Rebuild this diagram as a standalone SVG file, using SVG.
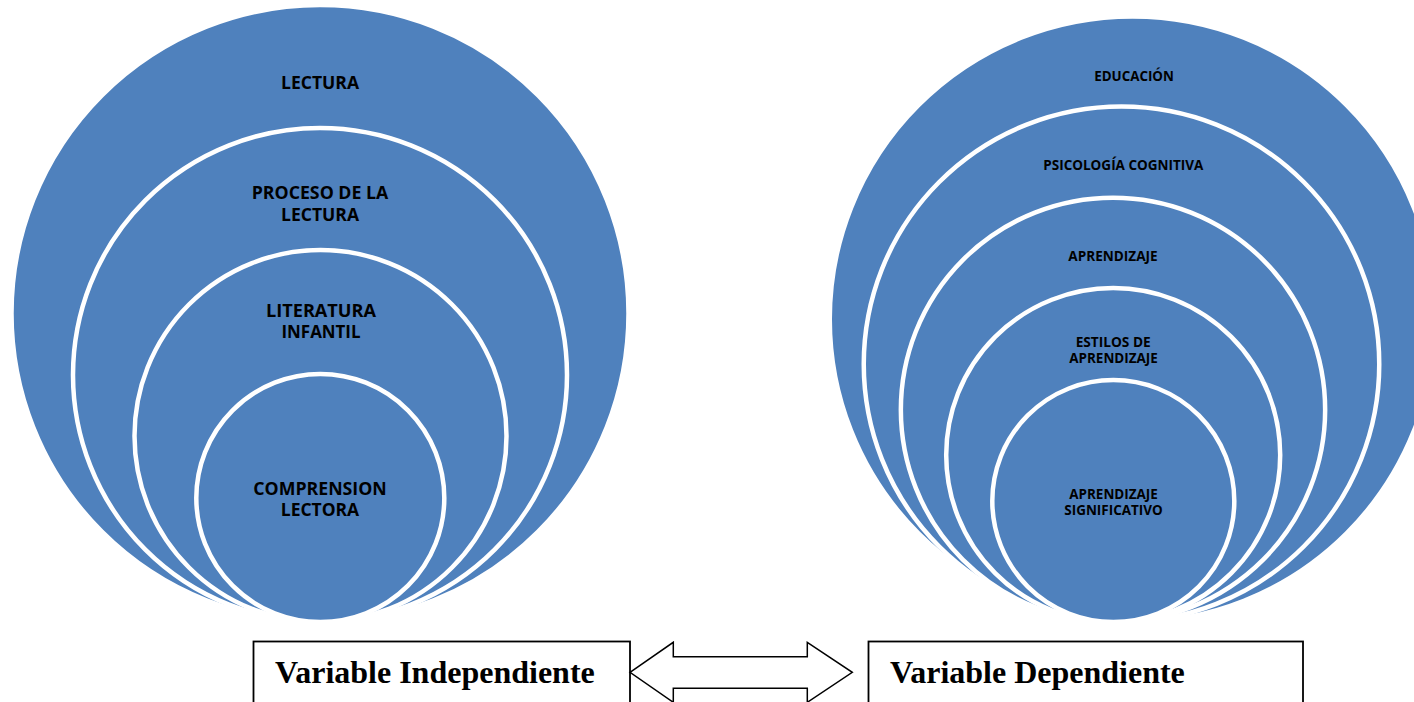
<svg xmlns="http://www.w3.org/2000/svg" width="1414" height="702" viewBox="0 0 1414 702">
<style>
.c{fill:#4F81BD;stroke:#FFFFFF;stroke-width:4.5}
.t{font-family:"Open Sans","Liberation Sans",sans-serif;font-weight:700;fill:#000;text-anchor:middle}
.l{font-size:18px}
.r{font-size:13.5px}
.box{fill:#FFFFFF;stroke:#000;stroke-width:1.8}
.bt{font-family:"Liberation Serif","Times New Roman",serif;font-weight:700;font-size:32px;fill:#000}
.arr{fill:#FFFFFF;stroke:#000;stroke-width:1.5;stroke-linejoin:miter}
</style>
<rect width="1414" height="702" fill="#FFFFFF"/>
<g id="left-diagram">
  <g id="n-lectura">
    <circle class="c" cx="320" cy="313.5" r="308.5"/>
    <text class="t l" x="320" y="89" textLength="78" lengthAdjust="spacingAndGlyphs">LECTURA</text>
  </g>
  <g id="n-proceso">
    <circle class="c" cx="320" cy="375" r="247"/>
    <text class="t l"><tspan x="320" y="199.3" textLength="136.6" lengthAdjust="spacingAndGlyphs">PROCESO DE LA</tspan><tspan x="320" y="220.6" textLength="78" lengthAdjust="spacingAndGlyphs">LECTURA</tspan></text>
  </g>
  <g id="n-literatura">
    <circle class="c" cx="320.5" cy="436" r="186"/>
    <text class="t l"><tspan x="321" y="316.7" textLength="110" lengthAdjust="spacingAndGlyphs">LITERATURA</tspan><tspan x="321" y="338.1" textLength="79" lengthAdjust="spacingAndGlyphs">INFANTIL</tspan></text>
  </g>
  <g id="n-comprension">
    <circle class="c" cx="320.3" cy="498" r="124"/>
    <text class="t l"><tspan x="320" y="494.5" textLength="133.4" lengthAdjust="spacingAndGlyphs">COMPRENSION</tspan><tspan x="320" y="515.9" textLength="78.3" lengthAdjust="spacingAndGlyphs">LECTORA</tspan></text>
  </g>
</g>
<g id="right-diagram">
  <g id="n-educacion">
    <circle class="c" cx="1132.5" cy="319.25" r="302.75"/>
    <text class="t r" x="1134" y="81" textLength="79.7" lengthAdjust="spacingAndGlyphs">EDUCACIÓN</text>
  </g>
  <g id="n-psicologia">
    <circle class="c" cx="1121.5" cy="364.25" r="257.75"/>
    <text class="t r" x="1123.3" y="169.5" textLength="160" lengthAdjust="spacingAndGlyphs">PSICOLOGÍA COGNITIVA</text>
  </g>
  <g id="n-aprendizaje">
    <circle class="c" cx="1113" cy="409.85" r="212.15"/>
    <text class="t r" x="1113" y="261" textLength="89.3" lengthAdjust="spacingAndGlyphs">APRENDIZAJE</text>
  </g>
  <g id="n-estilos">
    <circle class="c" cx="1113.2" cy="455" r="167"/>
    <text class="t r"><tspan x="1113.2" y="347" textLength="75" lengthAdjust="spacingAndGlyphs">ESTILOS DE</tspan><tspan x="1113.5" y="363.2" textLength="88.4" lengthAdjust="spacingAndGlyphs">APRENDIZAJE</tspan></text>
  </g>
  <g id="n-significativo">
    <circle class="c" cx="1113.3" cy="501" r="121"/>
    <text class="t r"><tspan x="1113.5" y="498.5" textLength="88.4" lengthAdjust="spacingAndGlyphs">APRENDIZAJE</tspan><tspan x="1113.5" y="514.7" textLength="98.4" lengthAdjust="spacingAndGlyphs">SIGNIFICATIVO</tspan></text>
  </g>
</g>
<g id="n-var-independiente">
  <rect class="box" x="253.5" y="641.5" width="376.5" height="80"/>
  <text class="bt" x="275" y="683">Variable Independiente</text>
</g>
<g id="n-var-dependiente">
  <rect class="box" x="868.5" y="641.5" width="434.5" height="80"/>
  <text class="bt" x="890" y="683">Variable Dependiente</text>
</g>
<g id="connectors">
  <path class="arr" d="M630,672.3 L673.3,642.3 L673.3,656.7 L807.3,656.7 L807.3,642.3 L852.3,672.3 L807.3,702.3 L807.3,688.3 L673.3,688.3 L673.3,702.3 Z"/>
</g>
</svg>
